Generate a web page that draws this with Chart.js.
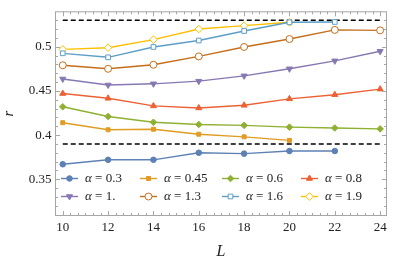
<!DOCTYPE html>
<html>
<head>
<meta charset="utf-8">
<script src="https://cdn.jsdelivr.net/npm/chart.js@4/dist/chart.umd.min.js"></script>
<style>
html,body{margin:0;padding:0;background:#fff;}
#wrap{width:395px;height:265px;}
</style>
</head>
<body>
<div id="wrap"><canvas id="c" width="395" height="265"></canvas></div>
<script>
// ---- data ----
const L = [10, 12, 14, 16, 18, 20, 22, 24];
const alphaLabels = ['0.3', '0.45', '0.6', '0.8', '1.', '1.3', '1.6', '1.9'];
const r03  = [0.367, 0.372, 0.372, 0.380, 0.379, 0.382, 0.382];
const r045 = [0.414, 0.406, 0.4066, 0.401, 0.398, 0.394];
const r06  = [0.432, 0.421, 0.4145, 0.412, 0.411, 0.409, 0.408, 0.407];
const r08  = [0.447, 0.4416, 0.433, 0.4307, 0.4337, 0.441, 0.4457, 0.452];
const r10  = [0.4635, 0.4567, 0.458, 0.461, 0.467, 0.475, 0.484, 0.4948];
const r13  = [0.479, 0.475, 0.4796, 0.489, 0.4997, 0.5087, 0.519, 0.5185];
const r16  = [0.4925, 0.488, 0.4997, 0.507, 0.5178, 0.5276, 0.528];
const r19  = [0.497, 0.4989, 0.508, 0.520, 0.5238, 0.5276];
const refUpper = 0.53;
const refLower = 0.39;
const refL = [10, 24];
const xTicks = [10, 12, 14, 16, 18, 20, 22, 24];
const xTickLabels = ['10', '12', '14', '16', '18', '20', '22', '24'];
const yTicks = [0.35, 0.4, 0.45, 0.5];
const yTickLabels = ['0.35', '0.4', '0.45', '0.5'];

// ---- styles ----
const series = [r03, r045, r06, r08, r10, r13, r16, r19];
const colors = ['#5E81B5', '#E19C24', '#8FB032', '#EB6235', '#8778B3', '#C56E1A', '#5D9EC7', '#FFBF00'];
const styles = [
  {ps: 'circle', rot: 0, r: 2.8, fill: true},
  {ps: 'rect', rot: 0, r: 2.8, fill: true},
  {ps: 'rectRot', rot: 0, r: 3.3, fill: true},
  {ps: 'triangle', rot: 0, r: 3.5, fill: true},
  {ps: 'triangle', rot: 180, r: 3.5, fill: true},
  {ps: 'circle', rot: 0, r: 3.5, fill: false},
  {ps: 'rect', rot: 0, r: 3.3, fill: false},
  {ps: 'rectRot', rot: 0, r: 3.8, fill: false}
];

const datasets = series.map((vals, i) => ({
  label: 'α = ' + alphaLabels[i],
  data: vals.map((v, j) => ({x: L[j], y: v})),
  borderColor: colors[i],
  backgroundColor: colors[i],
  borderWidth: 1.4,
  pointStyle: styles[i].ps,
  pointRotation: styles[i].rot,
  pointRadius: styles[i].r,
  pointBorderWidth: 1,
  pointBorderColor: colors[i],
  pointBackgroundColor: styles[i].fill ? colors[i] : '#ffffff',
  tension: 0,
  isSeries: true
}));
[refUpper, refLower].forEach(v => {
  datasets.push({
    data: refL.map(x => ({x: x, y: v})),
    borderColor: '#000',
    borderWidth: 1.5,
    borderDash: [5, 3],
    pointRadius: 0,
    isSeries: false
  });
});

const FONT = "'Liberation Serif', 'DejaVu Serif', serif";
const frameColor = '#a6a6a6';

const framePlugin = {
  id: 'frame',
  afterDatasetsDraw(chart) {
    const ctx = chart.ctx, a = chart.chartArea;
    const xs = chart.scales.x, ys = chart.scales.y;
    ctx.save();
    ctx.strokeStyle = frameColor;
    ctx.lineWidth = 1;
    ctx.strokeRect(a.left, a.top, a.right - a.left, a.bottom - a.top);
    ctx.beginPath();
    const xk0 = Math.ceil(xs.min * 3), xk1 = Math.floor(xs.max * 3);
    for (let k = xk0; k <= xk1; k++) {
      const v = k / 3;
      const major = xTicks.some(t => Math.abs(t - v) < 1e-6);
      const len = major ? 4.5 : 2.5;
      const px = Math.round(xs.getPixelForValue(v)) + 0.5;
      ctx.moveTo(px, a.bottom); ctx.lineTo(px, a.bottom - len);
      ctx.moveTo(px, a.top); ctx.lineTo(px, a.top + len);
    }
    const yk0 = Math.ceil(ys.min * 100), yk1 = Math.floor(ys.max * 100);
    for (let k = yk0; k <= yk1; k++) {
      const v = k / 100;
      const major = yTicks.some(t => Math.abs(t - v) < 1e-6);
      const len = major ? 4.5 : 2.5;
      const py = Math.round(ys.getPixelForValue(v)) + 0.5;
      ctx.moveTo(a.left, py); ctx.lineTo(a.left + len, py);
      ctx.moveTo(a.right, py); ctx.lineTo(a.right - len, py);
    }
    ctx.stroke();
    ctx.restore();
  }
};

const legendPlugin = {
  id: 'customLegend',
  afterDraw(chart) {
    const ctx = chart.ctx;
    const colX = [61, 140, 222, 301];
    const rowY = [178.5, 196.5];
    ctx.save();
    chart.data.datasets.forEach((ds, i) => {
      if (!ds.isSeries) return;
      const col = i % 4, row = Math.floor(i / 4);
      const x0 = colX[col], y = rowY[row];
      ctx.strokeStyle = ds.borderColor;
      ctx.lineWidth = 1.4;
      ctx.setLineDash([]);
      ctx.beginPath();
      ctx.moveTo(x0, y); ctx.lineTo(x0 + 17, y);
      ctx.stroke();
      ctx.fillStyle = ds.pointBackgroundColor;
      ctx.strokeStyle = ds.pointBorderColor;
      ctx.lineWidth = 1;
      Chart.helpers.drawPoint(ctx, {pointStyle: ds.pointStyle, rotation: ds.pointRotation, radius: ds.pointRadius, borderWidth: 1}, x0 + 8.5, y);
      ctx.fillStyle = '#222';
      ctx.textBaseline = 'middle';
      ctx.textAlign = 'left';
      let tx = x0 + 24;
      ctx.font = 'italic 13px ' + FONT;
      ctx.fillText('α', tx, y);
      tx += ctx.measureText('α').width;
      ctx.font = '13px ' + FONT;
      ctx.fillText(' = ' + alphaLabels[i], tx, y);
    });
    ctx.restore();
  }
};

new Chart(document.getElementById('c'), {
  type: 'line',
  data: {datasets: datasets},
  options: {
    responsive: false,
    animation: false,
    devicePixelRatio: 1,
    layout: {padding: {left: 0, right: 8.5, top: 11.5, bottom: 0}},
    plugins: {legend: {display: false}, tooltip: {enabled: false}},
    scales: {
      x: {
        type: 'linear',
        min: 9.68, max: 24.28,
        grid: {display: false, drawTicks: false},
        border: {display: false},
        afterFit(s) { s.height = 49.5; },
        afterBuildTicks(s) { s.ticks = xTicks.map(v => ({value: v})); },
        ticks: {
          padding: 4,
          color: '#222',
          font: {family: FONT, size: 13},
          maxRotation: 0,
          callback: (v) => xTickLabels[xTicks.indexOf(v)]
        },
        title: {display: true, text: 'L', color: '#222', font: {family: FONT, size: 16, style: 'italic'}, padding: {top: 0, bottom: 4}}
      },
      y: {
        type: 'linear',
        min: 0.309, max: 0.5395,
        grid: {display: false, drawTicks: false},
        border: {display: false},
        afterFit(s) { s.width = 55.5; },
        afterBuildTicks(s) { s.ticks = yTicks.map(v => ({value: v})); },
        ticks: {
          padding: 4,
          color: '#222',
          font: {family: FONT, size: 13},
          callback: (v) => yTickLabels[yTicks.findIndex(t => Math.abs(t - v) < 1e-9)]
        },
        title: {display: true, text: 'r', color: '#222', font: {family: FONT, size: 15, style: 'italic'}, padding: {top: 0, bottom: 0}}
      }
    }
  },
  plugins: [framePlugin, legendPlugin]
});
</script>
</body>
</html>
